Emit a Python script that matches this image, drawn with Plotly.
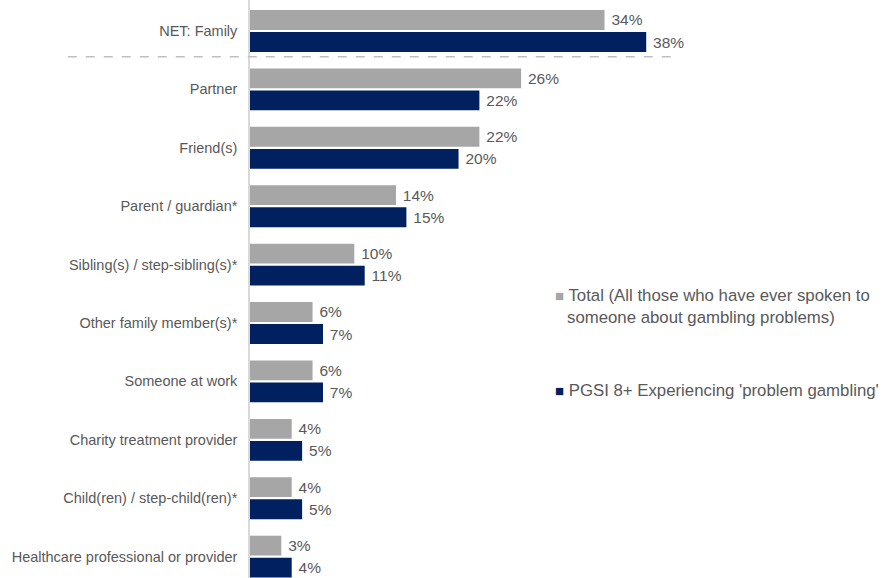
import plotly.graph_objects as go

# Who people have spoken to about gambling problems
categories = [
    "NET: Family",
    "Partner",
    "Friend(s)",
    "Parent / guardian*",
    "Sibling(s) / step-sibling(s)*",
    "Other family member(s)*",
    "Someone at work",
    "Charity treatment provider",
    "Child(ren) / step-child(ren)*",
    "Healthcare professional or provider",
]
total_pct = [34, 26, 22, 14, 10, 6, 6, 4, 4, 3]
pgsi_pct = [38, 22, 20, 15, 11, 7, 7, 5, 5, 4]

total_name = "Total (All those who have ever spoken to"
total_name_2 = "someone about gambling problems)"
pgsi_name = "PGSI 8+ Experiencing 'problem gambling'"

GREY = "#a6a6a6"
NAVY = "#002060"
LABEL = "#595959"
FONT = "Liberation Sans, Arial, sans-serif"

ypos = list(range(len(categories)))

fig = go.Figure()
fig.add_trace(go.Bar(
    x=total_pct, y=ypos, orientation="h", name=total_name,
    marker=dict(color=GREY, line=dict(width=0)),
    texttemplate="\u2005%{x}%", textposition="outside",
    textfont=dict(size=15.5, color=LABEL, family=FONT),
    cliponaxis=False, showlegend=False,
))
fig.add_trace(go.Bar(
    x=pgsi_pct, y=ypos, orientation="h", name=pgsi_name,
    marker=dict(color=NAVY, line=dict(width=0)),
    texttemplate="\u2005%{x}%", textposition="outside",
    textfont=dict(size=15.5, color=LABEL, family=FONT),
    cliponaxis=False, showlegend=False,
))

# dashed separator under the NET row
fig.add_shape(
    type="line", xref="paper", yref="y",
    x0=-0.287, x1=0.675, y0=0.44, y1=0.44,
    line=dict(color="#bfbfbf", width=1.5, dash="dash"),
)

# legend drawn as text with coloured squares
square = "<span style='color:{c};font-size:15px'>\u25a0</span>"
fig.add_annotation(
    xref="paper", yref="paper", x=0.477, y=0.489, xanchor="left", yanchor="middle",
    text=square.format(c=GREY) + " " + total_name,
    showarrow=False, font=dict(size=16.8, color=LABEL, family=FONT),
)
fig.add_annotation(
    xref="paper", yref="paper", x=0.4955, y=0.451, xanchor="left", yanchor="middle",
    text=total_name_2,
    showarrow=False, font=dict(size=16.8, color=LABEL, family=FONT),
)
fig.add_annotation(
    xref="paper", yref="paper", x=0.477, y=0.325, xanchor="left", yanchor="middle",
    text=square.format(c=NAVY) + " " + pgsi_name,
    showarrow=False, font=dict(size=16.8, color=LABEL, family=FONT),
)

fig.update_layout(
    width=885, height=578,
    margin=dict(l=250, r=0, t=0, b=0),
    paper_bgcolor="white", plot_bgcolor="white",
    barmode="group", bargap=0.245, bargroupgap=0.1,
    xaxis=dict(range=[0, 60.9], visible=False, fixedrange=True),
    yaxis=dict(
        range=[9.366, -0.531],
        tickmode="array", tickvals=ypos, ticktext=categories,
        tickfont=dict(size=14.5, color=LABEL, family=FONT),
        ticks="outside", ticklen=8, tickcolor="rgba(0,0,0,0)",
        showline=True, linecolor="#d9d9d9", linewidth=1.5,
        showgrid=False, zeroline=False, fixedrange=True,
    ),
    showlegend=False,
)

fig.write_html("out.html")
